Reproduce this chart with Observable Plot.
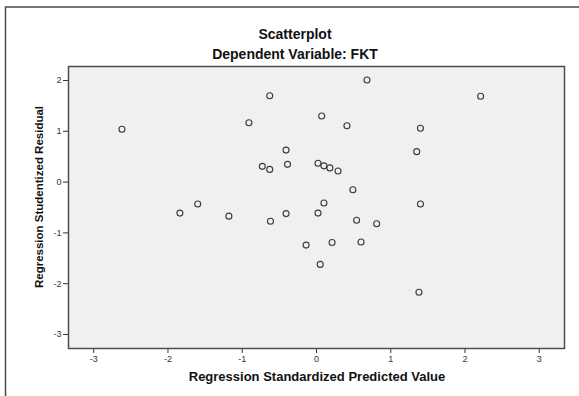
<!DOCTYPE html>
<html>
<head>
<meta charset="utf-8">
<script src="https://cdn.jsdelivr.net/npm/d3@7"></script>
<script src="https://cdn.jsdelivr.net/npm/@observablehq/plot@0.6"></script>
<style>
  html, body { margin: 0; padding: 0; background: #ffffff; }
</style>
</head>
<body>
<div id="chart"></div>
<script>
// Data
const predicted = [-2.62, -0.63, -0.91, 0.07, -0.41, -0.73, -0.63, -0.39, 0.02, 0.10, 0.18, 0.29,
  0.68, 2.21, 0.41, 1.40, 1.35, 0.49, -1.60, -1.84, -1.18, -0.62, -0.41, 0.02, 0.10, -0.14,
  0.05, 1.40, 0.54, 0.81, 0.21, 0.60, 1.38];
const residual = [1.04, 1.70, 1.17, 1.30, 0.63, 0.31, 0.25, 0.35, 0.37, 0.32, 0.28, 0.22,
  2.01, 1.69, 1.11, 1.06, 0.60, -0.15, -0.43, -0.61, -0.67, -0.77, -0.62, -0.61, -0.41, -1.24,
  -1.62, -0.43, -0.75, -0.82, -1.19, -1.18, -2.17];
const xTicks = [-3, -2, -1, 0, 1, 2, 3];
const yTicks = [-3, -2, -1, 0, 1, 2];
const title = "Scatterplot";
const subtitle = "Dependent Variable: FKT";
const xLabel = "Regression Standardized Predicted Value";
const yLabel = "Regression Studentized Residual";

const data = predicted.map((x, i) => ({x, y: residual[i]}));

const chart = Plot.plot({
  width: 579,
  height: 396,
  marginLeft: 68,
  marginRight: 15,
  marginTop: 66,
  marginBottom: 48,
  style: {background: "#ffffff", fontFamily: "'Liberation Sans', Arial, sans-serif", overflow: "visible"},
  x: {domain: [-3.34, 3.34]},
  y: {domain: [-3.276, 2.276]},
  marks: [
    Plot.frame({fill: "#f0f0f0", stroke: null}),
    Plot.axisX({ticks: xTicks, tickSize: 5, tickPadding: 2, tickFormat: d => String(d),
      fontSize: 9, label: null, color: "#333"}),
    Plot.axisY({ticks: yTicks, tickSize: 5, tickPadding: 2, tickFormat: d => String(d),
      fontSize: 9, label: null, color: "#333"}),
    Plot.dot(data, {x: "x", y: "y", r: 3, stroke: "#3a3a3a", strokeWidth: 1.1, fill: "none"}),
    Plot.frame({stroke: "#4d4d4d", strokeWidth: 1.5})
  ]
});

const svg = d3.select(chart);
svg.insert("path", ":first-child")
  .attr("d", "M5.5,396V7H579")
  .attr("fill", "none")
  .attr("stroke", "#4a4a4a")
  .attr("stroke-width", 1.5);

const font = "'Liberation Sans', Arial, sans-serif";
function addText(t, x, y, size, rotate) {
  const el = svg.append("text")
    .attr("text-anchor", "middle")
    .attr("dominant-baseline", "central")
    .attr("font-family", font)
    .attr("font-size", size)
    .attr("font-weight", "bold")
    .attr("fill", "#111")
    .text(t);
  if (rotate) el.attr("transform", `translate(${x},${y}) rotate(${rotate})`);
  else el.attr("x", x).attr("y", y);
}
addText(title, 295, 34, 14);
addText(subtitle, 295, 54, 14);
addText(xLabel, 317, 376, 13);
addText(yLabel, 39, 197, 11.5, -90);

document.getElementById("chart").append(chart);
</script>
</body>
</html>
